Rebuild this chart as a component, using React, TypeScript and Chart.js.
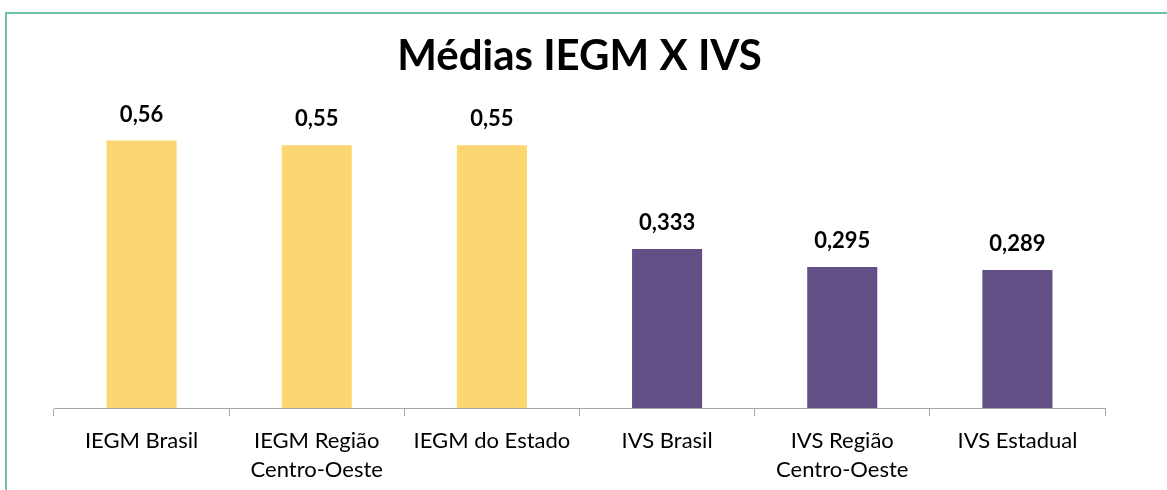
import React, { useEffect, useRef } from "react";
import { Chart, registerables } from "chart.js";

Chart.register(...registerables);

const categories: (string | string[])[] = [
  "IEGM Brasil",
  ["IEGM Região", "Centro-Oeste"],
  "IEGM do Estado",
  "IVS Brasil",
  ["IVS Região", "Centro-Oeste"],
  "IVS Estadual",
];
const values = [0.56, 0.55, 0.55, 0.333, 0.295, 0.289];
const valueLabels = ["0,56", "0,55", "0,55", "0,333", "0,295", "0,289"];
const barColors = ["#FCD670", "#FCD670", "#FCD670", "#614F85", "#614F85", "#614F85"];
const titleText = "Médias IEGM X IVS";

const FONT = "Lato, 'Open Sans', sans-serif";

const frameAndLabels = {
  id: "frameAndLabels",
  beforeDraw(chart: any) {
    const ctx = chart.ctx;
    ctx.save();
    ctx.fillStyle = "#ffffff";
    ctx.fillRect(0, 0, chart.width, chart.height);
    ctx.strokeStyle = "#6EC2A9";
    ctx.lineWidth = 2;
    ctx.strokeRect(6, 13, chart.width + 20, chart.height + 20);
    ctx.restore();
  },
  afterDatasetsDraw(chart: any) {
    const ctx = chart.ctx;
    const meta = chart.getDatasetMeta(0);
    ctx.save();
    ctx.fillStyle = "#000000";
    ctx.font = `bold 22px ${FONT}`;
    ctx.textAlign = "center";
    ctx.textBaseline = "middle";
    meta.data.forEach((bar: any, i: number) => {
      ctx.fillText(valueLabels[i], bar.x, bar.y - 26);
    });
    ctx.restore();
  },
};

export default function App() {
  const ref = useRef<HTMLCanvasElement>(null);
  useEffect(() => {
    if (!ref.current) return;
    const chart = new Chart(ref.current, {
      type: "bar",
      data: {
        labels: categories,
        datasets: [
          {
            data: values,
            backgroundColor: barColors,
            borderWidth: 0,
            barPercentage: 0.4,
            categoryPercentage: 1,
          },
        ],
      },
      options: {
        animation: false,
        responsive: false,
        maintainAspectRatio: false,
        layout: { padding: { left: 54, right: 62, top: 0, bottom: 0 } },
        plugins: {
          legend: { display: false },
          tooltip: { enabled: false },
          title: {
            display: true,
            text: titleText,
            color: "#000000",
            font: { family: FONT, size: 42, weight: "bold", lineHeight: 1.2 },
            padding: { top: 31, bottom: 40 },
          },
        },
        scales: {
          x: {
            grid: {
              display: true,
              drawOnChartArea: false,
              drawTicks: true,
              tickLength: 8,
              color: "#A6A6A6",
              offset: true,
            },
            border: { display: true, color: "#A6A6A6", width: 1 },
            ticks: {
              color: "#000000",
              font: { family: FONT, size: 22, lineHeight: 1.32 },
              padding: 10,
              maxRotation: 0,
              autoSkip: false,
            },
            afterFit: (scale: any) => {
              scale.height = 82;
            },
          },
          y: {
            display: false,
            min: 0,
            max: 0.6,
          },
        },
      },
      plugins: [frameAndLabels],
    });
    return () => chart.destroy();
  }, []);
  return (
    <div style={{ position: "fixed", left: 0, top: 0, width: 1167, height: 490 }}>
      <canvas ref={ref} width={1167} height={490} style={{ display: "block" }} />
    </div>
  );
}
